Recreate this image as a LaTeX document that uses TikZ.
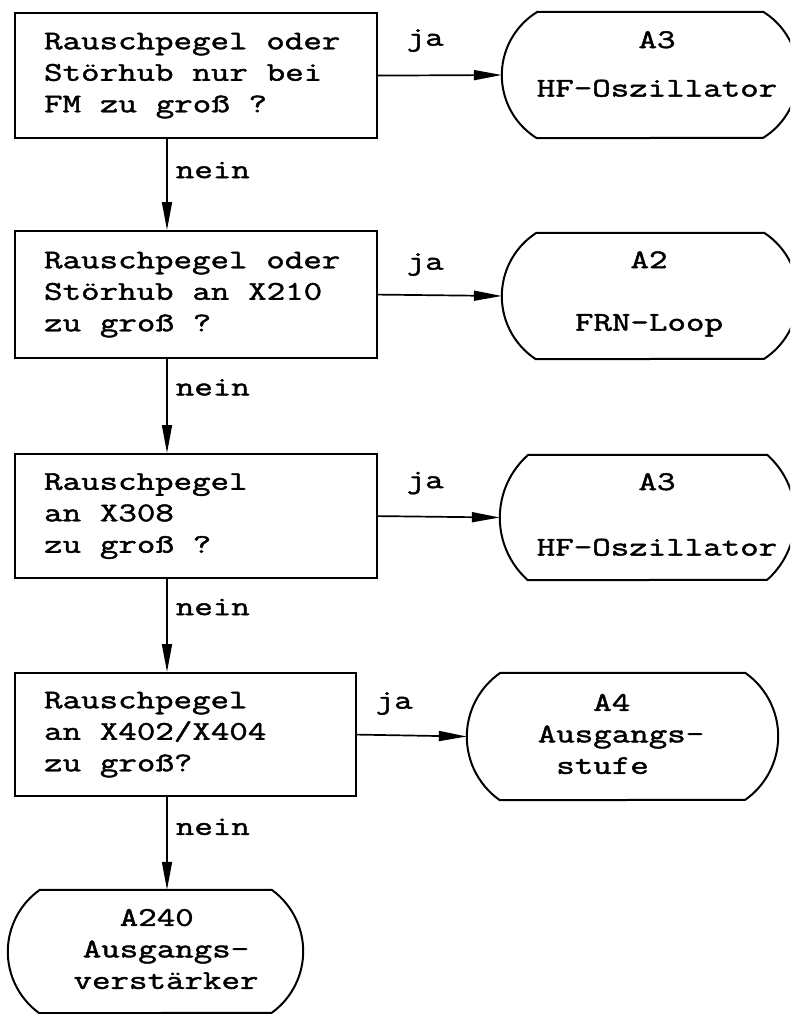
\documentclass[tikz,border=0pt]{standalone}
\usepackage{fontspec}
\newfontfamily\tw{Latin Modern Mono}[FakeBold=1.7, FakeStretch=1.33]
\usetikzlibrary{arrows.meta}
\newcommand\termpath[3]{%
  \pgfmathsetmacro\myR{(#3*#3+#2*#2)/(2*#2)}%
  \pgfmathsetmacro\myA{asin(#3/\myR)}%
  \draw[termline] ([xshift=#2pt]#1.north west) -- ([xshift=-#2pt]#1.north east)
    arc[start angle=\myA, end angle=-\myA, radius=\myR pt]
    -- ([xshift=#2pt]#1.south west)
    arc[start angle=180+\myA, end angle=180-\myA, radius=\myR pt] -- cycle;}
\newcommand\twfont{\tw\fontsize{27}{31.5}\selectfont}
\newcommand\ws{\hspace{18.85pt}}
\begin{document}
\begin{tikzpicture}[x=1pt,y=-1pt,
  txt/.style={font=\twfont},
  qbox/.style={txt, draw, line width=2.2pt, rectangle, anchor=north west, align=left,
    inner xsep=29pt, inner ysep=0pt, minimum height=125pt, text width=#1},
  termbox/.style={rectangle, inner sep=0pt},
  termline/.style={line width=2pt, line join=round},
  ttext/.style={txt, inner sep=0pt, align=center},
  arr/.style={line width=1.7pt, -{Triangle[length=28pt,width=10pt]}},
  lbl/.style={txt, inner sep=0pt},
  nein/.style={txt, inner sep=0pt, anchor=west, xshift=8pt},
]
\useasboundingbox (0,0) rectangle (790,1014);
\clip (0,0) rectangle (790,1014);

% decision boxes
\node[qbox=304pt, minimum width=362pt] (b1) at (14,12) {Rauschpegel\ws oder\\Störhub\ws nur\ws bei\\FM\ws zu\ws groß\ws ?};
\node[qbox=304pt, minimum width=362pt, minimum height=127pt] (b2) at (14,230) {Rauschpegel\ws oder\\Störhub\ws an\ws X210\\zu\ws groß\ws ?};
\node[qbox=304pt, minimum width=362pt, minimum height=124pt] (b3) at (14,453) {Rauschpegel\\an\ws X308\\zu\ws groß\ws ?};
\node[qbox=283pt, minimum width=341pt, minimum height=123pt] (b4) at (14,672) {Rauschpegel\\an\ws X402/X404\\zu\ws groß?};

% terminal shapes
\node[termbox, minimum width=296pt, minimum height=126pt] (t1) at (650,75) {};
\node[termbox, minimum width=296pt, minimum height=126pt] (t2) at (650,296) {};
\node[termbox, minimum width=295pt, minimum height=125pt] (t3) at (647.5,517.5) {};
\node[termbox, minimum width=311pt, minimum height=127pt] (t4) at (622.5,736.5) {};
\node[termbox, minimum width=295pt, minimum height=123pt] (t5) at (155.5,951.5) {};
\termpath{t1}{35}{63}
\termpath{t2}{34}{63}
\termpath{t3}{28}{62.5}
\termpath{t4}{33}{63.5}
\termpath{t5}{31.5}{61.5}

% terminal texts
\node[ttext] (t1txt) at (657,64) {A3\\[17pt]HF-Oszillator};
\node[ttext] (t2txt) at (649,294) {A2\\[31pt]FRN-Loop};
\node[ttext] (t3txt) at (657,514.5) {A3\\[34pt]HF-Oszillator};
\node[txt, inner sep=0pt, align=left] (t4txt) at (621,734) {\hphantom{AAA}A4\\Ausgangs-\\\hphantom{A}stufe};
\node[ttext] (t5txt) at (166,949) {A240\hphantom{x}\\Ausgangs-\\verstärker};

% vertical spine
\coordinate (sp) at (167,0);
\draw[arr] (b1.south -| sp) -- node[nein, pos=0.34] (n1) {nein} (b2.north -| sp);
\draw[arr] (b2.south -| sp) -- node[nein, pos=0.30] (n2) {nein} (b3.north -| sp);
\draw[arr] (b3.south -| sp) -- node[nein, pos=0.30] (n3) {nein} (b4.north -| sp);
\draw[arr] (b4.south -| sp) -- node[nein, pos=0.32] (n4) {nein} (t5.north -| sp);

% yes branches
\draw[arr] (b1.east) -- (t1.west);
\draw[arr] (b2.east) -- (t2.west);
\draw[arr] (b3.east) -- (t3.west);
\draw[arr] (b4.east) -- (t4.west);
\node[lbl] (j1) at ([shift={(47,-35)}]b1.east) {ja};
\node[lbl] (j2) at ([shift={(47,-30)}]b2.east) {ja};
\node[lbl] (j3) at ([shift={(47,-33)}]b3.east) {ja};
\node[lbl] (j4) at ([shift={(37,-31)}]b4.east) {ja};
\end{tikzpicture}
\end{document}
